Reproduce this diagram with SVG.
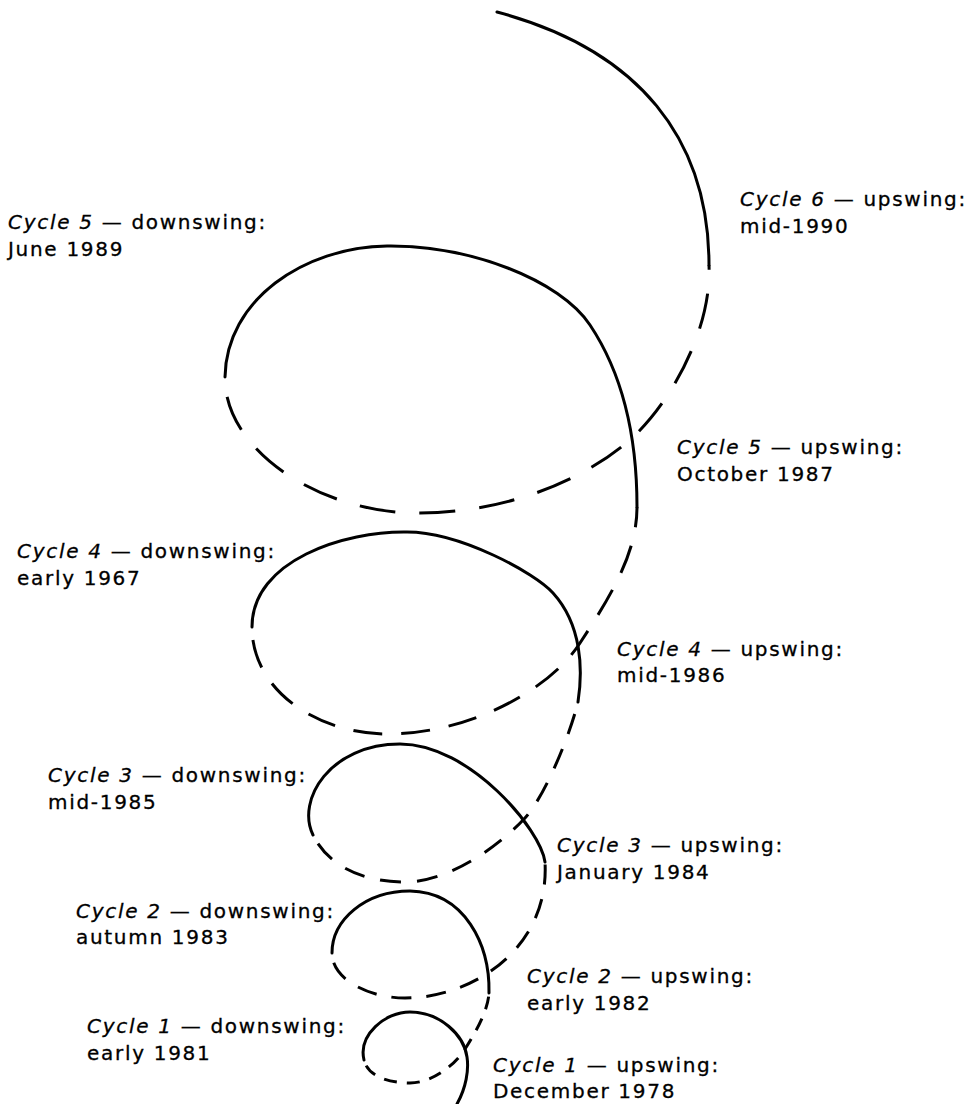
<svg xmlns="http://www.w3.org/2000/svg" width="967" height="1104" viewBox="0 0 967 1104">
<style>
.s{fill:none;stroke:#000;stroke-width:3;stroke-linecap:round;stroke-linejoin:round}
.d{fill:none;stroke:#000;stroke-width:3;stroke-linecap:butt}
.d1{stroke-dasharray:13 10;stroke-dashoffset:17}
.d2{stroke-dasharray:20 15;stroke-dashoffset:25}
.d3{stroke-dasharray:21 16;stroke-dashoffset:27}
.d4{stroke-dasharray:29 19;stroke-dashoffset:35}
.d5{stroke-dasharray:36 24;stroke-dashoffset:40}
text{font-family:"DejaVu Sans","Liberation Sans",sans-serif;font-size:20px;letter-spacing:1.7px;fill:#000;stroke:#000;stroke-width:0.3px}
.i{font-style:italic}
</style>
<rect width="967" height="1104" fill="#fff"/>
<g id="spiral">
<path id="loop1-back" class="s" d="M457,1104 C466,1088 469,1070 467,1057 C464,1035 440,1012 410,1012 C385,1012 358,1035 364,1060"/>
<path id="loop1-front" class="d d1" d="M364,1060 C368,1077 390,1083 410,1083 C432,1083 455,1065 465,1049 C477,1030 488,1010 489,993"/>
<path id="loop2-back" class="s" d="M489,993 C490,945 465,892 410,891 C365,891 332,920 332,953"/>
<path id="loop2-front" class="d d2" d="M332,953 C332,980 370,998 405,998 C440,998 470,985 488,973 C520,952 548,915 545,862"/>
<path id="loop3-back" class="s" d="M545,862 C541,830 470,744 400,744 C330,744 296,800 313,835"/>
<path id="loop3-front" class="d d3" d="M313,835 C327,864 360,882 405,882 C450,882 500,845 525,818 C545,796 570,735 578,702"/>
<path id="loop4-back" class="s" d="M578,702 C583,670 582,625 553,593 C535,573 460,532 407,532 C345,531 252,560 252,627"/>
<path id="loop4-front" class="d d4" d="M252,627 C252,692 320,735 390,734 C470,733 550,690 580,643 C615,590 637,550 637,507"/>
<path id="loop5-back" class="s" d="M637,507 C637,430 620,370 590,325 C560,280 470,245 387,246 C304,247 226,300 225,377"/>
<path id="loop5-front" class="d d5" d="M225,377 C224,450 320,514 420,513 C520,512 595,472 633,437 C670,403 712,330 709,265"/>
<path id="loop6-back" class="s" d="M709,265 C709,140 640,50 497,12"/>
</g>
<g id="labels">
<g id="c6-up"><text x="740" y="206"><tspan class="i">Cycle 6</tspan> — upswing:</text><text x="740" y="233">mid-1990</text></g>
<g id="c5-down"><text x="8" y="229"><tspan class="i">Cycle 5</tspan> — downswing:</text><text x="8" y="256">June 1989</text></g>
<g id="c5-up"><text x="677" y="454"><tspan class="i">Cycle 5</tspan> — upswing:</text><text x="677" y="481">October 1987</text></g>
<g id="c4-down"><text x="17" y="558"><tspan class="i">Cycle 4</tspan> — downswing:</text><text x="17" y="585">early 1967</text></g>
<g id="c4-up"><text x="617" y="656"><tspan class="i">Cycle 4</tspan> — upswing:</text><text x="617" y="682">mid-1986</text></g>
<g id="c3-down"><text x="48" y="782"><tspan class="i">Cycle 3</tspan> — downswing:</text><text x="48" y="809">mid-1985</text></g>
<g id="c3-up"><text x="557" y="852"><tspan class="i">Cycle 3</tspan> — upswing:</text><text x="557" y="879">January 1984</text></g>
<g id="c2-down"><text x="76" y="918"><tspan class="i">Cycle 2</tspan> — downswing:</text><text x="76" y="944">autumn 1983</text></g>
<g id="c2-up"><text x="527" y="983"><tspan class="i">Cycle 2</tspan> — upswing:</text><text x="527" y="1010">early 1982</text></g>
<g id="c1-down"><text x="87" y="1033"><tspan class="i">Cycle 1</tspan> — downswing:</text><text x="87" y="1060">early 1981</text></g>
<g id="c1-up"><text x="493" y="1072"><tspan class="i">Cycle 1</tspan> — upswing:</text><text x="493" y="1098">December 1978</text></g>
</g>
</svg>
